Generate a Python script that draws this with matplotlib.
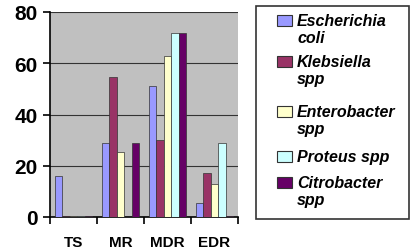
import numpy as np
import matplotlib.pyplot as plt
from matplotlib.patches import Rectangle

categories = ['TS', 'MR', 'MDR', 'EDR']
species = ['Escherichia\ncoli', 'Klebsiella\nspp', 'Enterobacter\nspp', 'Proteus spp', 'Citrobacter\nspp']
ecoli = [16, 29, 51, 5.5]
klebsiella = [0.4, 54.5, 30, 17]
enterobacter = [0.4, 25.5, 63, 13]
proteus = [0.4, 0, 72, 29]
citrobacter = [0.4, 29, 72, 0.4]
colors = ['#9999FF', '#993366', '#FFFFCC', '#CCFFFF', '#660066']

plt.rcParams['font.family'] = ['Liberation Sans', 'DejaVu Sans']

W, H = 413, 253
fig = plt.figure(figsize=(W / 100, H / 100), dpi=100)
ax = fig.add_axes([50 / W, 1 - 218 / H, 188 / W, 205 / H])
ax.set_facecolor('#C0C0C0')

series = [ecoli, klebsiella, enterobacter, proteus, citrobacter]
x = np.arange(len(categories))
w = 0.155
for i, vals in enumerate(series):
    ax.bar(x + (i - 2) * 0.16, vals, w, color=colors[i], edgecolor='#333333',
           linewidth=0.5, zorder=3)

ax.set_xlim(-0.5, 3.5)
ax.set_ylim(0, 80)
ax.set_yticks([0, 20, 40, 60, 80])
ax.yaxis.grid(True, color='#333333', linewidth=0.8, zorder=0)
ax.set_axisbelow(True)

ax.set_xticks([-0.5, 0.5, 1.5, 2.5, 3.5])
ax.set_xticklabels([])
ax.set_xticks(x, minor=True)
ax.set_xticklabels(categories, minor=True, fontsize=11, fontweight='bold')
ax.tick_params(axis='x', which='minor', length=0, pad=13)
ax.tick_params(axis='x', which='major', length=5, width=1.2, direction='out')
ax.tick_params(axis='y', length=5, width=1.2, labelsize=15, pad=4)
for lab in ax.get_yticklabels():
    lab.set_fontweight('bold')

ax.spines['top'].set_visible(False)
ax.spines['right'].set_visible(False)
ax.spines['left'].set_linewidth(1.2)
ax.spines['bottom'].set_linewidth(1.2)

# legend box drawn by hand so entries line up with the first text line
fig.patches.append(Rectangle((256 / W, 1 - 220 / H), 153 / W, 213 / H,
                             transform=fig.transFigure, facecolor='white',
                             edgecolor='#333333', linewidth=1.2))
baselines = [26, 67, 117, 162, 188]
for c, lab, b in zip(colors, species, baselines):
    fig.patches.append(Rectangle((277 / W, 1 - (b + 1) / H), 15 / W, 11 / H,
                                 transform=fig.transFigure, facecolor=c,
                                 edgecolor='#333333', linewidth=0.8))
    for k, line in enumerate(lab.split('\n')):
        fig.text(297 / W, 1 - (b + 17 * k) / H, line, fontsize=11.5,
                 fontweight='bold', fontstyle='italic', va='baseline', ha='left')

fig.savefig('out.png', dpi=100)
